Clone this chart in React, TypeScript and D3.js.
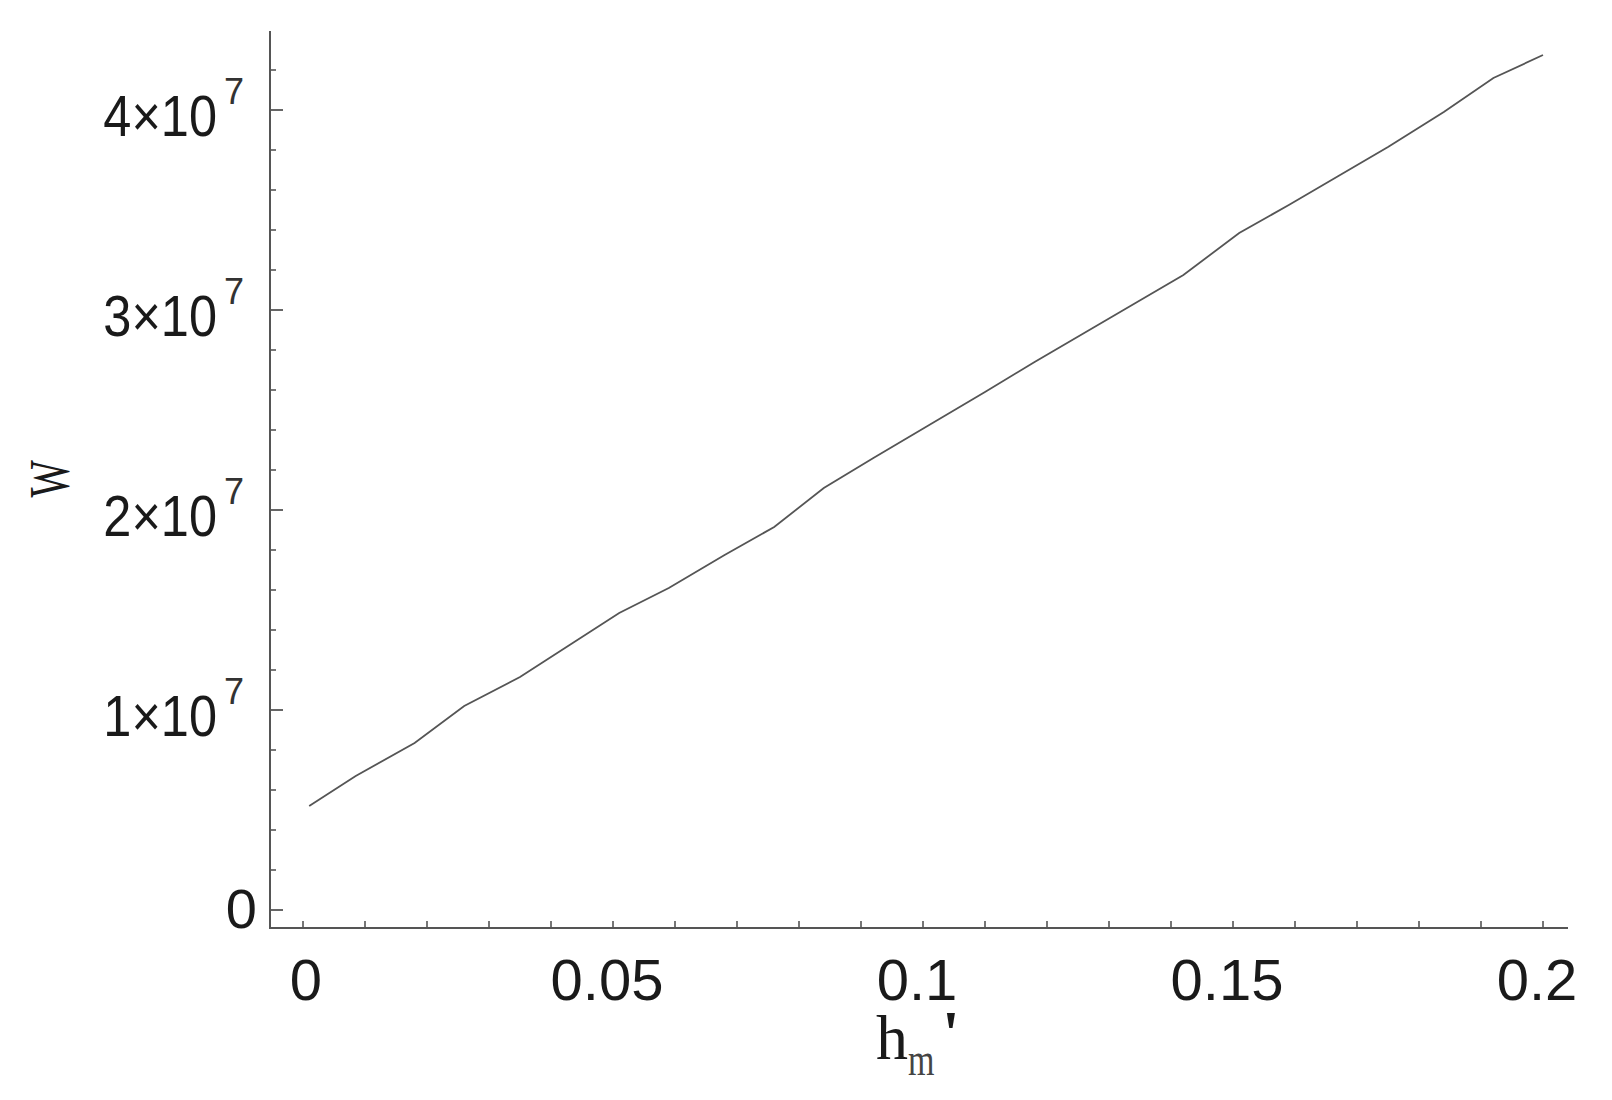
import React, { useEffect, useRef } from 'react';
import * as d3 from 'd3';

// h_m' values and the W
const hmValues = [0.001, 0.0085, 0.018, 0.026, 0.035, 0.043, 0.051, 0.059, 0.068, 0.076, 0.084, 0.092, 0.101,
  0.11, 0.118, 0.126, 0.134, 0.142, 0.151, 0.159, 0.167, 0.175, 0.184, 0.192, 0.2];
const wValues = [5.2e6, 6.7e6, 8.35e6, 1.02e7, 1.165e7, 1.325e7, 1.485e7, 1.61e7, 1.775e7, 1.915e7, 2.11e7, 2.26e7, 2.425e7,
  2.59e7, 2.74e7, 2.885e7, 3.03e7, 3.175e7, 3.385e7, 3.525e7, 3.67e7, 3.815e7, 3.99e7, 4.16e7, 4.275e7];

const xTickLabels = [0, 0.05, 0.1, 0.15, 0.2];
const yMajorTicks = [0, 1e7, 2e7, 3e7, 4e7];

const App = () => {
  const svgRef = useRef<SVGSVGElement>(null);

  useEffect(() => {
    const svg = d3.select(svgRef.current);
    svg.selectAll('*').remove();

    const width = 1612;
    const height = 1100;
    const axisX = 270;
    const axisY = 928;
    const axisColor = '#555';
    const textColor = '#1a1a1a';

    const x = d3.scaleLinear().domain([0, 0.2]).range([303, 1543]);
    const y = d3.scaleLinear().domain([0, 4e7]).range([910, 110]);

    svg.attr('width', width).attr('height', height);

    // axes lines
    svg.append('line')
      .attr('x1', axisX).attr('x2', axisX).attr('y1', 31).attr('y2', axisY + 1)
      .attr('stroke', axisColor).attr('stroke-width', 2);
    svg.append('line')
      .attr('x1', axisX - 1).attr('x2', 1568).attr('y1', axisY).attr('y2', axisY)
      .attr('stroke', axisColor).attr('stroke-width', 2);

    // x ticks, every 0.01
    const xTicks = d3.range(0, 21).map(i => i * 0.01);
    svg.append('g').selectAll('line')
      .data(xTicks)
      .enter()
      .append('line')
      .attr('x1', d => x(d)).attr('x2', d => x(d))
      .attr('y1', axisY).attr('y2', axisY - 7)
      .attr('stroke', axisColor).attr('stroke-width', 1.6);

    // y ticks, minor every 2e6
    const yMinor = d3.range(0, 22).map(i => i * 2e6).filter(v => !yMajorTicks.includes(v));
    svg.append('g').selectAll('line')
      .data(yMinor)
      .enter()
      .append('line')
      .attr('x1', axisX).attr('x2', axisX + 6)
      .attr('y1', d => y(d)).attr('y2', d => y(d))
      .attr('stroke', axisColor).attr('stroke-width', 1.6);
    svg.append('g').selectAll('line')
      .data(yMajorTicks)
      .enter()
      .append('line')
      .attr('x1', axisX).attr('x2', axisX + 13)
      .attr('y1', d => y(d)).attr('y2', d => y(d))
      .attr('stroke', axisColor).attr('stroke-width', 1.8);

    const labelFont = '"Liberation Sans", Arial, sans-serif';

    // x tick labels
    svg.append('g').selectAll('text')
      .data(xTickLabels)
      .enter()
      .append('text')
      .attr('x', d => x(d) - (d === 0 ? -3 : 6))
      .attr('y', 1000)
      .attr('text-anchor', 'middle')
      .attr('font-family', labelFont)
      .attr('font-size', 58)
      .attr('fill', textColor)
      .text(d => String(d));

    // y tick labels
    yMajorTicks.forEach(v => {
      const ty = y(v);
      if (v === 0) {
        svg.append('text')
          .attr('x', 257).attr('y', ty + 18)
          .attr('text-anchor', 'end')
          .attr('font-family', labelFont)
          .attr('font-size', 56)
          .attr('fill', textColor)
          .text('0');
        return;
      }
      const g = svg.append('g').attr('transform', `translate(217,${ty + 26}) scale(0.87,1)`);
      g.append('text')
        .attr('text-anchor', 'end')
        .attr('font-family', labelFont)
        .attr('font-size', 58)
        .attr('fill', textColor)
        .text(`${v / 1e7}×10`);
      svg.append('text')
        .attr('x', 224).attr('y', ty - 6)
        .attr('font-family', labelFont)
        .attr('font-size', 36)
        .attr('fill', '#333')
        .text('7');
    });

    // axis labels
    svg.append('g')
      .attr('transform', 'translate(69,479) rotate(-90) scale(0.68,1)')
      .append('text')
      .attr('text-anchor', 'middle')
      .attr('font-family', '"Liberation Serif", serif')
      .attr('font-size', 58)
      .attr('fill', textColor)
      .text('W');

    const serif = '"Liberation Serif", "Times New Roman", serif';
    svg.append('text')
      .attr('x', 876).attr('y', 1059)
      .attr('font-family', serif)
      .attr('font-size', 64)
      .attr('fill', textColor)
      .text('h');
    svg.append('g')
      .attr('transform', 'translate(908,1075) scale(1,1.35)')
      .append('text')
      .attr('font-family', serif)
      .attr('font-size', 34)
      .attr('fill', '#444')
      .text('m');
    svg.append('text')
      .attr('x', 942).attr('y', 1055)
      .attr('font-family', serif)
      .attr('font-size', 64)
      .attr('font-weight', 'bold')
      .attr('fill', textColor)
      .text("'");

    // the curve
    const data = hmValues.map((h, i) => ({ h, w: wValues[i] }));
    const lineGenerator = d3.line<{ h: number; w: number }>()
      .x(d => x(d.h))
      .y(d => y(d.w));

    svg.append('path')
      .datum(data)
      .attr('d', lineGenerator)
      .attr('fill', 'none')
      .attr('stroke', '#555')
      .attr('stroke-width', 1.8);
  }, []);

  return (
    <svg ref={svgRef} style={{ position: 'absolute', left: 0, top: 0, background: '#fff' }} />
  );
};

export default App;
